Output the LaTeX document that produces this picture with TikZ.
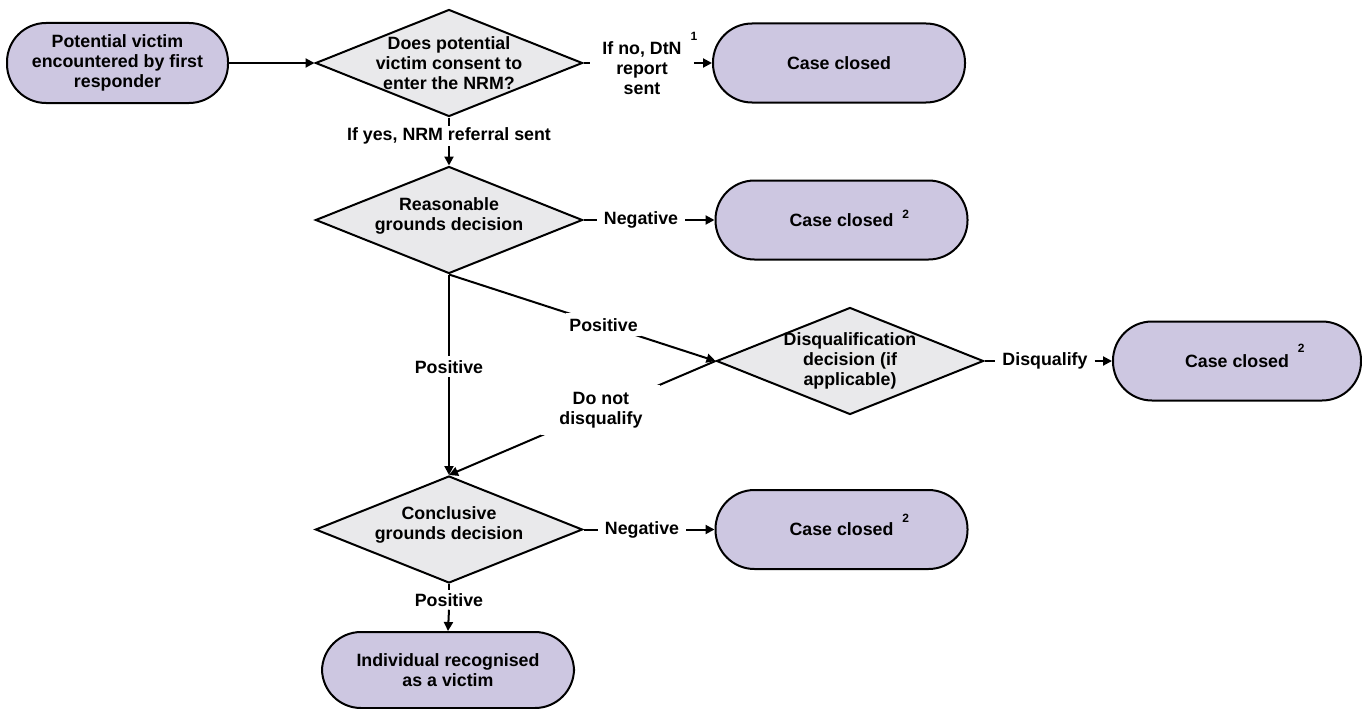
\documentclass[tikz,border=0pt]{standalone}
\usepackage{fontspec}
\setmainfont{Liberation Sans}
\usepackage{tikz}
\usetikzlibrary{arrows.meta,shapes.geometric}
\definecolor{termlilac}{RGB}{205,199,225}
\definecolor{decgrey}{RGB}{233,233,235}
\newcommand{\fnote}[2][14pt]{\rlap{\hspace{9pt}\smash{\raisebox{#1}{\fontsize{12}{12}\selectfont #2}}}}

\begin{document}
\begin{tikzpicture}[x=1pt,y=-1pt,font=\fontsize{17.8}{20}\selectfont\bfseries,
    term/.style={draw,line width=2pt,fill=termlilac,rounded corners=39pt,minimum width=252pt,minimum height=79pt,align=center,inner sep=0pt},
    dec/.style={draw,line width=2pt,fill=decgrey,diamond,minimum width=267pt,minimum height=107pt,inner sep=0pt},
    dtext/.style={align=center},
    lbl/.style={align=center,inner xsep=7pt,inner ysep=3pt},
    gap/.style={fill=white,align=center,inner xsep=3pt,inner ysep=4pt},
    link/.style={line width=2pt},
    flow/.style={line width=2pt,-{Triangle[length=9pt,width=9pt]}}]
        \useasboundingbox (0,0) rectangle (1362,709);
        \node[term,minimum width=221pt,minimum height=80pt] (start) at (117.5,63) {Potential victim\\encountered by first\\responder};
        \node[dec,label={[dtext]center:Does potential\\victim consent to\\enter the NRM?}] (consent) at (449,63) {};
        \node[lbl,inner xsep=12pt] (nodtn) at (642,68) {If no, DtN\fnote{1}\\report\\sent};
        \node[term] (closed1) at (839,63) {Case closed};
        \node[lbl,inner ysep=2pt] (yesref) at (449,136) {If yes, NRM referral sent};
        \node[dec,label={[dtext,yshift=4pt]center:Reasonable\\grounds decision}] (rgrounds) at (449,220) {};
        \node[lbl] (neg1) at (641,220) {Negative};
        \node[term] (closed2) at (841.5,220) {Case closed\fnote[8pt]{2}};
        \node[dec,label={[dtext]center:Disqualification\\decision (if\\applicable)}] (disq) at (850,361) {};
        \node[lbl] (disqlbl) at (1045,361) {Disqualify};
        \node[term,minimum width=248pt] (closed3) at (1237,361) {Case closed\fnote[15pt]{2}};
        \node[dec,label={[dtext,yshift=5pt]center:Conclusive\\grounds decision}] (cgrounds) at (449,529.5) {};
        \node[lbl] (neg2) at (642,529.5) {Negative};
        \node[term] (closed4) at (841.5,529.5) {Case closed\fnote[13pt]{2}};
        \node[lbl] (pos3) at (449,600) {Positive};
        \node[term,minimum height=76pt] (victim) at (448,670) {Individual recognised\\as a victim};
        \draw[flow] (start) -- (consent);
        \foreach \d/\l/\c in {consent/nodtn/closed1,rgrounds/neg1/closed2,disq/disqlbl/closed3,cgrounds/neg2/closed4}{
            \draw[link] (\d.east) -- (\d.east -| \l.west);
            \draw[flow] (\l.east |- \c.west) -- (\c.west);
        }
        \draw[link] (consent.south) -- (yesref.north);
        \draw[flow] (yesref.south) -- (rgrounds.north);
        \draw[flow] (rgrounds.south) -- node[gap,pos=0.46] (pos1) {Positive} (cgrounds.north);
        \draw[flow] (rgrounds.south) -- node[gap,pos=0.58,inner ysep=5pt] (pos2) {Positive} (disq.west);
        \draw[flow] (disq.west) -- node[gap,pos=0.43,inner xsep=18pt,inner ysep=7pt] (nodisq) {Do not\\disqualify} (cgrounds.north);
        \draw[link] (cgrounds.south) -- (pos3.north);
        \draw[flow] (pos3.south) -- (victim.north);
    \end{tikzpicture}
\end{document}
